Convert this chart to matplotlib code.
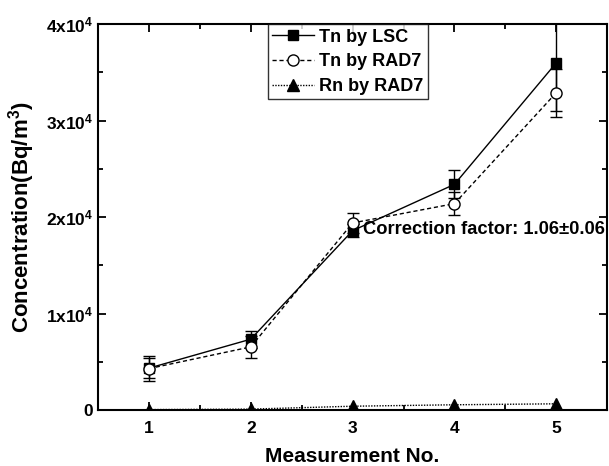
import matplotlib.pyplot as plt
from matplotlib.ticker import FixedLocator, MultipleLocator, FuncFormatter

plt.rcParams["font.family"] = ["Liberation Sans", "DejaVu Sans"]
plt.rcParams["font.weight"] = "bold"
plt.rcParams["mathtext.default"] = "bf"
plt.rcParams["mathtext.fontset"] = "custom"
plt.rcParams["mathtext.bf"] = "Liberation Sans:bold"

# Data
meas = [1, 2, 3, 4, 5]
tn_lsc = [4350, 7350, 18600, 23400, 36000]
tn_lsc_err = [1000, 880, 650, 1450, 5000]
tn_rad7 = [4300, 6550, 19400, 21400, 32900]
tn_rad7_err = [1300, 1100, 1050, 1200, 2500]
rn_rad7 = [50, 100, 400, 550, 650]

fig = plt.figure(figsize=(6.09, 4.66), dpi=100)
ax = fig.add_axes([0.161, 0.120, 0.836, 0.828])

h1 = ax.errorbar(meas, tn_lsc, yerr=tn_lsc_err, color="black", lw=1.0,
                 marker="s", ms=7, mfc="black", mec="black",
                 capsize=4, elinewidth=1.0, capthick=1.0)
h2 = ax.errorbar(meas, tn_rad7, yerr=tn_rad7_err, color="black", lw=1.0, ls=(0, (3, 2)),
                 marker="o", ms=8, mfc="white", mec="black",
                 capsize=4, elinewidth=1.0, capthick=1.0)
h3, = ax.plot(meas, rn_rad7, color="black", lw=1.0, ls=(0, (1, 1)),
              marker="^", ms=8.5, mfc="black", mec="black")

ax.text(3.1, 18700, "Correction factor: 1.06\u00b10.06", fontsize=13.2,
        fontweight="bold", ha="left", va="center")

ax.set_xlim(0.5, 5.5)
ax.set_ylim(0, 40000)
ax.xaxis.set_major_locator(FixedLocator(meas))
ax.xaxis.set_minor_locator(MultipleLocator(0.5))
ax.yaxis.set_major_locator(MultipleLocator(10000))
ax.yaxis.set_minor_locator(MultipleLocator(5000))


def yfmt(v, pos):
    if v == 0:
        return "0"
    return r"%dx10$^{4}$" % round(v / 10000)


ax.yaxis.set_major_formatter(FuncFormatter(yfmt))
ax.tick_params(which="both", direction="in", top=True, right=True,
               labelsize=12.5, width=1.3)
ax.tick_params(which="major", length=6)
ax.tick_params(which="minor", length=3.5)
ax.tick_params(axis="x", pad=8)
for s in ax.spines.values():
    s.set_linewidth(1.5)
for lab in ax.get_xticklabels() + ax.get_yticklabels():
    lab.set_fontweight("bold")

ax.set_xlabel("Measurement No.", fontsize=15, fontweight="bold", labelpad=8)
ax.set_ylabel("Concentration(Bq/m$^{3}$)", fontsize=16, fontweight="bold", labelpad=6)

leg = ax.legend([h1[0], h2[0], h3], ["Tn by LSC", "Tn by RAD7", "Rn by RAD7"],
                loc="upper left", bbox_to_anchor=(0.333, 1.0), fontsize=13,
                frameon=True, fancybox=False, edgecolor="black",
                handlelength=2.3, borderpad=0.25, labelspacing=0.42,
                handletextpad=0.3, borderaxespad=0)
leg.get_frame().set_linewidth(1.0)
for t in leg.get_texts():
    t.set_fontweight("bold")

fig.savefig("out.png", dpi=100, facecolor="white")
